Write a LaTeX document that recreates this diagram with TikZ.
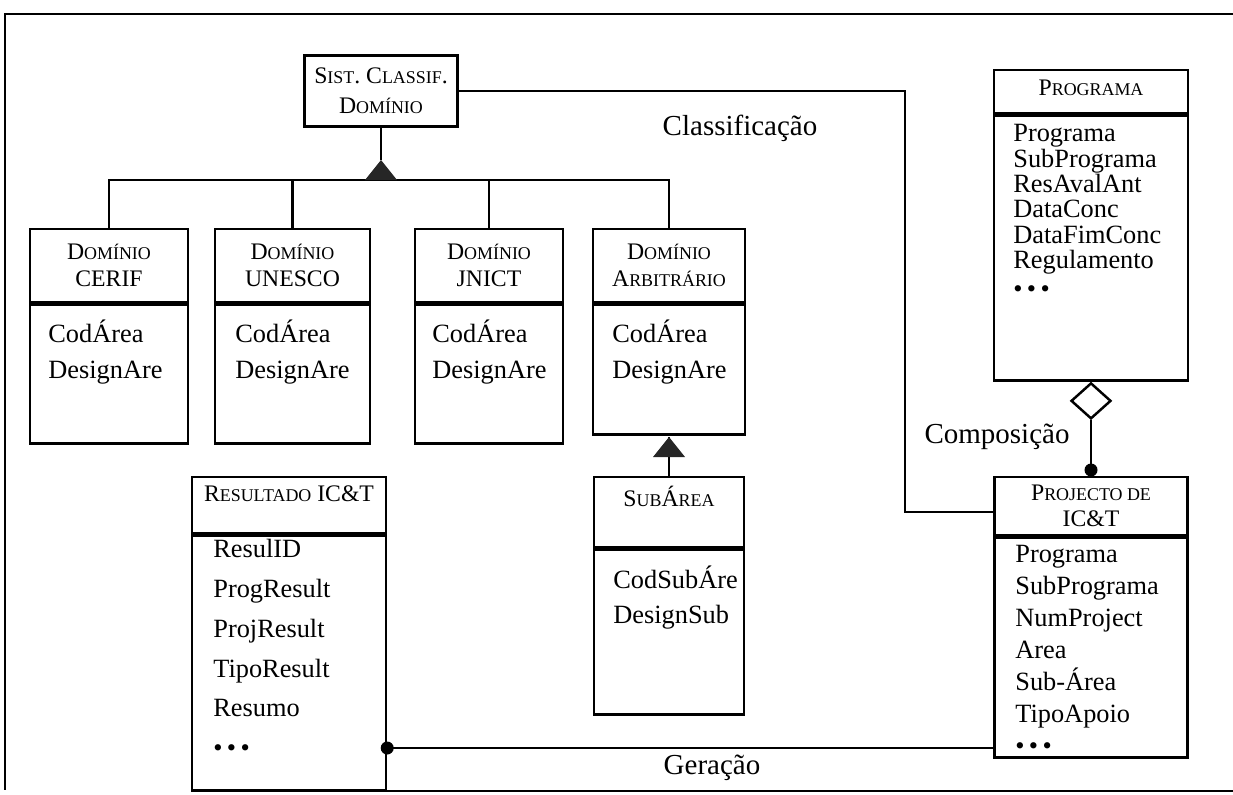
\documentclass[tikz,border=0pt]{standalone}
\usepackage{fontspec}
\setmainfont{Liberation Serif}
\usetikzlibrary{positioning,shapes.geometric}
\newcommand\lc[1]{{\fontsize{10.2}{12}\selectfont #1}}
\newcommand\tdots{•\kern2.5pt•\kern2.5pt•}

\begin{document}
\begin{tikzpicture}[x=0.02cm, y=-0.02cm,
    box/.style={draw, line width=1.4pt, inner sep=0pt},
    ttl/.style={font=\fontsize{13.5}{#1}\selectfont, align=center, inner sep=0pt},
    ttl/.default=15.4pt,
    attr/.style={font=\fontsize{15}{#1}\selectfont, align=left, anchor=west, inner sep=0pt},
    lbl/.style={font=\fontsize{16.5}{18}\selectfont, inner sep=0pt},
    link/.style={line width=1.4pt},
    gen/.style={fill=black!85}]
  \useasboundingbox (0,0) rectangle (1233,794);
  % frame
  \draw[line width=1.4pt] (1233,14) -- (5,14) -- (5,790);
  \draw[line width=1.4pt] (305,791) -- (1233,791);

  % classification system
  \node[box, ttl=17pt, minimum width=3.06cm, minimum height=1.42cm] (sist) at (381,91) {S\lc{IST}. C\lc{LASSIF}.\\D\lc{OMÍNIO}};

  % domains
  \node[box, ttl, minimum width=3.16cm, minimum height=1.46cm] (cerif) at (109,265.5) {D\lc{OMÍNIO}\\CERIF};
  \node[box, minimum width=3.16cm, minimum height=2.78cm, below=0pt of cerif] (cerifB) {};
  \node[attr=21pt] (cerifA) at (48,352) {CodÁrea\\DesignAre};
  \node[box, ttl, minimum width=3.1cm, minimum height=1.46cm] (unesco) at (292.5,265.5) {D\lc{OMÍNIO}\\UNESCO};
  \node[box, minimum width=3.1cm, minimum height=2.78cm, below=0pt of unesco] (unescoB) {};
  \node[attr=21pt] (unescoA) at (235,352) {CodÁrea\\DesignAre};
  \node[box, ttl, minimum width=2.96cm, minimum height=1.46cm] (jnict) at (489,265.5) {D\lc{OMÍNIO}\\JNICT};
  \node[box, minimum width=2.96cm, minimum height=2.78cm, below=0pt of jnict] (jnictB) {};
  \node[attr=21pt] (jnictA) at (432,352) {CodÁrea\\DesignAre};
  \node[box, ttl, minimum width=3.04cm, minimum height=1.46cm] (arb) at (669,265.5) {D\lc{OMÍNIO}\\A\lc{RBITRÁRIO}};
  \node[box, minimum width=3.04cm, minimum height=2.6cm, below=0pt of arb] (arbB) {};
  \node[attr=21pt] (arbA) at (612,352) {CodÁrea\\DesignAre};

  % generalisation
  \coordinate (genA) at (381,160);
  \coordinate (bus) at (381,180);
  \draw[link] (sist) -- (genA);
  \draw[link] (cerif.north) |- (bus) -| (arb.north);
  \draw[link] (unesco.north) -- (unesco.north |- bus);
  \draw[link] (jnict.north) -- (jnict.north |- bus);
  \fill[gen] (genA) -- ++(16,20) -- ++(-32,0) -- cycle;

  % sub area
  \node[box, minimum width=3cm, minimum height=1.4cm] (sub) at (669,512) {};
  \node[ttl] (subT) at (669,496) {S\lc{UB}Á\lc{REA}};
  \node[box, minimum width=3cm, minimum height=3.3cm, below=0pt of sub] (subB) {};
  \node[attr=19.9pt] (subA) at (613,598) {CodSubÁre\\DesignSub};
  \coordinate (genB) at (669,437);
  \draw[link] (sub) -- (genB);
  \fill[gen] (genB) -- ++(16,20) -- ++(-32,0) -- cycle;

  % result
  \node[box, minimum width=3.88cm, minimum height=1.12cm] (res) at (289,505) {};
  \node[ttl] (resT) at (289,494) {R\lc{ESULTADO} IC\&T};
  \node[box, minimum width=3.88cm, minimum height=5.1cm, below=0pt of res] (resB) {};
  \node[attr=22.6pt] (resA) at (213,648) {ResulID\\ProgResult\\ProjResult\\TipoResult\\Resumo\\\tdots};

  % programme
  \node[box, minimum width=3.88cm, minimum height=0.86cm] (prog) at (1091,91.5) {};
  \node[ttl] (progT) at (1091,88) {P\lc{ROGRAMA}};
  \node[box, minimum width=3.88cm, minimum height=5.3cm, below=0pt of prog] (progB) {};
  \node[attr=14.4pt] (progA) at (1013,211) {Programa\\SubPrograma\\ResAvalAnt\\DataConc\\DataFimConc\\Regulamento\\[2pt]\tdots};

  % project
  \node[box, ttl=14.8pt, minimum width=3.86cm, minimum height=1.16cm] (proj) at (1091,506) {P\lc{ROJECTO DE}\\IC\&T};
  \node[box, minimum width=3.86cm, minimum height=4.4cm, below=0pt of proj] (projB) {};
  \node[attr=18.2pt] (projA) at (1015,650) {Programa\\SubPrograma\\NumProject\\Area\\Sub-Área\\TipoApoio\\\tdots};

  % associations
  \node[draw, line width=1.4pt, diamond, aspect=1.1, minimum width=0.8cm, minimum height=0.72cm, inner sep=0pt, anchor=north] (agg) at (progB.south) {};
  \coordinate (compDot) at (1091,470);
  \draw[link] (agg) -- (compDot);
  \fill (compDot) circle[radius=0.13cm];
  \coordinate (clsBend) at (905,512);
  \draw[link] (sist.east) -| (clsBend) -- (proj.west |- clsBend);
  \coordinate (gerY) at (0,748);
  \draw[link] (resB.east |- gerY) -- (projB.west |- gerY);
  \fill (resB.east |- gerY) circle[radius=0.13cm];
  \node[lbl] (clsL) at (740,128) {Classificação};
  \node[lbl] (compL) at (997,437) {Composição};
  \node[lbl] (gerL) at (712,768) {Geração};
\end{tikzpicture}
\end{document}
